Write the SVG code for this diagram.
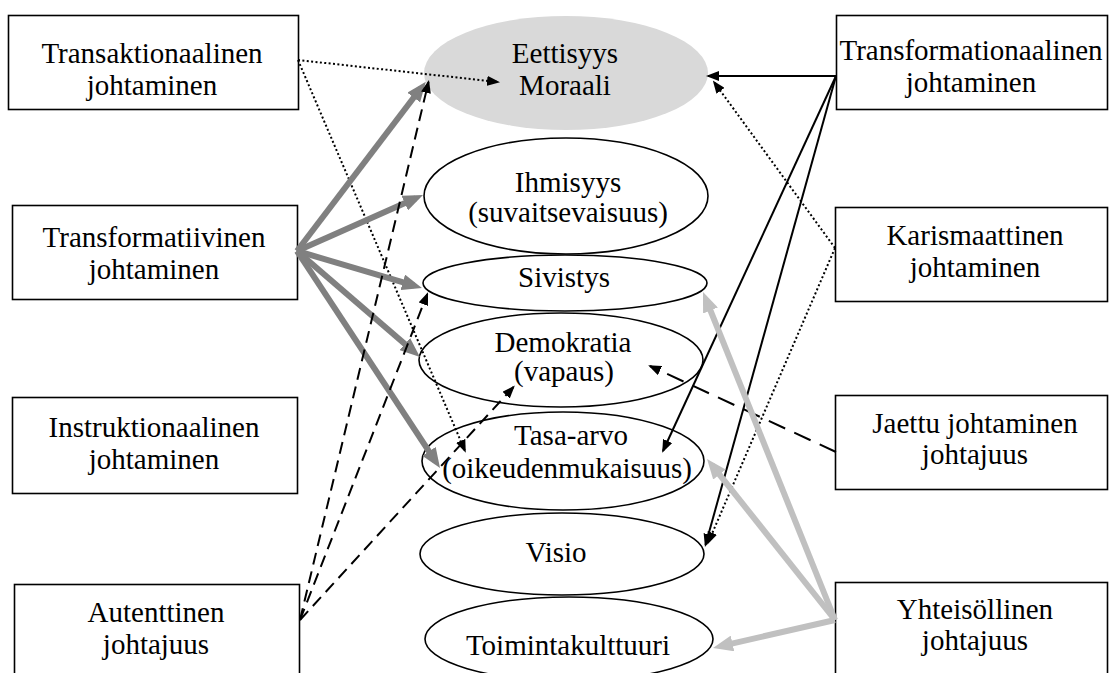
<svg xmlns="http://www.w3.org/2000/svg" width="1110" height="673" viewBox="0 0 1110 673">
  <style>
    .box { fill: #fff; stroke: #000; stroke-width: 1.6; }
    .oval { fill: none; stroke: #000; stroke-width: 1.6; }
    .oval-hi { fill: #d9d9d9; stroke: none; }
    text { font-family: "Liberation Serif", "Times New Roman", serif; font-size: 29px; fill: #000; text-anchor: middle; }
    .solid { fill: none; stroke: #000; stroke-width: 2; marker-end: url(#ah-black); }
    .dotted { fill: none; stroke: #000; stroke-width: 2; stroke-dasharray: 2 2.4; marker-end: url(#ah-black); }
    .dashed { fill: none; stroke: #000; stroke-width: 2; stroke-dasharray: 12 7; marker-end: url(#ah-black); }
    .dashed-long { fill: none; stroke: #000; stroke-width: 2; stroke-dasharray: 18 10; marker-end: url(#ah-black); }
    .thick-dark { fill: none; stroke: #808080; stroke-width: 6; marker-end: url(#ah-dark); }
    .thick-light { fill: none; stroke: #c0c0c0; stroke-width: 6; marker-end: url(#ah-light); }
  </style>
  <defs>
    <marker id="ah-black" viewBox="0 0 13 10" markerWidth="13" markerHeight="10" refX="11" refY="5" orient="auto" markerUnits="userSpaceOnUse">
      <path d="M0,0 L13,5 L0,10 z" fill="#000"/>
    </marker>
    <marker id="ah-dark" viewBox="0 0 20 16" markerWidth="20" markerHeight="16" refX="12" refY="8" orient="auto" markerUnits="userSpaceOnUse">
      <path d="M0,0 L20,8 L0,16 z" fill="#808080"/>
    </marker>
    <marker id="ah-light" viewBox="0 0 20 16" markerWidth="20" markerHeight="16" refX="12" refY="8" orient="auto" markerUnits="userSpaceOnUse">
      <path d="M0,0 L20,8 L0,16 z" fill="#c0c0c0"/>
    </marker>
  </defs>

  <!-- leadership styles, left column -->
  <g id="transaktionaalinen">
    <rect class="box" x="8.5" y="15.5" width="290" height="94"/>
    <text x="152" y="63">Transaktionaalinen</text>
    <text x="152" y="95">johtaminen</text>
  </g>
  <g id="transformatiivinen">
    <rect class="box" x="12.5" y="205.5" width="285" height="94"/>
    <text x="154" y="247">Transformatiivinen</text>
    <text x="154" y="279">johtaminen</text>
  </g>
  <g id="instruktionaalinen">
    <rect class="box" x="12.5" y="397.5" width="285" height="96"/>
    <text x="154" y="437">Instruktionaalinen</text>
    <text x="154" y="469">johtaminen</text>
  </g>
  <g id="autenttinen">
    <rect class="box" x="14.5" y="584.5" width="285" height="100"/>
    <text x="156" y="622">Autenttinen</text>
    <text x="156" y="654">johtajuus</text>
  </g>

  <!-- leadership styles, right column -->
  <g id="transformationaalinen">
    <rect class="box" x="836.5" y="15.5" width="271" height="94"/>
    <text x="971" y="60">Transformationaalinen</text>
    <text x="971" y="92">johtaminen</text>
  </g>
  <g id="karismaattinen">
    <rect class="box" x="835.5" y="207.5" width="272" height="94"/>
    <text x="975" y="245">Karismaattinen</text>
    <text x="975" y="277">johtaminen</text>
  </g>
  <g id="jaettu">
    <rect class="box" x="835.5" y="395.5" width="272" height="94"/>
    <text x="975" y="433">Jaettu johtaminen</text>
    <text x="975" y="464">johtajuus</text>
  </g>
  <g id="yhteisollinen">
    <rect class="box" x="835.5" y="582.5" width="272" height="100"/>
    <text x="975" y="619">Yhteisöllinen</text>
    <text x="975" y="650">johtajuus</text>
  </g>

  <!-- values, centre column -->
  <g id="eettisyys">
    <ellipse class="oval-hi" cx="566" cy="73" rx="142" ry="57"/>
    <text x="565" y="63">Eettisyys</text>
    <text x="565" y="95">Moraali</text>
  </g>
  <g id="ihmisyys">
    <ellipse class="oval" cx="566" cy="196" rx="142" ry="58"/>
    <text x="568" y="192">Ihmisyys</text>
    <text x="568" y="222">(suvaitsevaisuus)</text>
  </g>
  <g id="sivistys">
    <ellipse class="oval" cx="565" cy="283" rx="142" ry="28"/>
    <text x="564" y="287">Sivistys</text>
  </g>
  <g id="demokratia">
    <ellipse class="oval" cx="561" cy="360" rx="142" ry="47"/>
    <text x="563" y="352">Demokratia</text>
    <text x="564" y="381">(vapaus)</text>
  </g>
  <g id="tasa-arvo">
    <ellipse class="oval" cx="563" cy="461" rx="141" ry="49"/>
    <text x="571" y="445">Tasa-arvo</text>
    <text x="567" y="478">(oikeudenmukaisuus)</text>
  </g>
  <g id="visio">
    <ellipse class="oval" cx="562" cy="554" rx="142" ry="41"/>
    <text x="556" y="562">Visio</text>
  </g>
  <g id="toimintakulttuuri">
    <ellipse class="oval" cx="569" cy="639" rx="144" ry="42"/>
    <text x="568" y="655">Toimintakulttuuri</text>
  </g>

  <!-- connectors -->
  <g id="connectors">
    <!-- Transaktionaalinen -->
    <path class="dotted" d="M298,60 L498,82"/>
    <path class="dotted" d="M298,60 L465,451"/>

    <!-- Transformatiivinen -->
    <path class="thick-dark" d="M297,251 L421,88"/>
    <path class="thick-dark" d="M297,251 L415.7,198.2"/>
    <path class="thick-dark" d="M297,251 L414.3,285.7"/>
    <path class="thick-dark" d="M297,251 L413.9,351.8"/>
    <path class="thick-dark" d="M297,251 L435.6,461.3"/>

    <!-- Autenttinen -->
    <path class="dashed" d="M300,620 L428.5,82"/>
    <path class="dashed" d="M300,620 L427.3,294"/>
    <path class="dashed" d="M300,620 L513.5,387"/>

    <!-- Transformationaalinen -->
    <path class="solid" d="M836,76 L708,76"/>
    <path class="solid" d="M836,76 L663,451"/>
    <path class="solid" d="M836,76 L705.5,545"/>

    <!-- Karismaattinen -->
    <path class="dotted" d="M835,248 L714,82"/>
    <path class="dotted" d="M835,248 L708,543"/>

    <!-- Jaettu -->
    <path class="dashed-long" d="M836,452 L650,366"/>

    <!-- Yhteisöllinen -->
    <path class="thick-light" d="M835,620 L706,299.4"/>
    <path class="thick-light" d="M835,620 L712,465.2"/>
    <path class="thick-light" d="M835,620 L720.8,646.1"/>
  </g>
</svg>
